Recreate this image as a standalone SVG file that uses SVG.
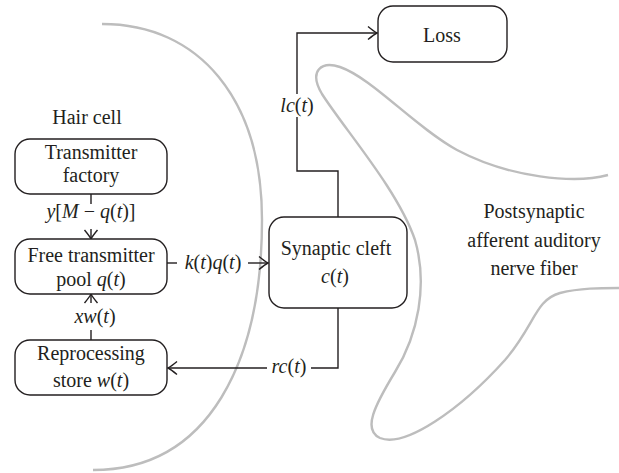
<svg xmlns="http://www.w3.org/2000/svg" width="619" height="473" viewBox="0 0 619 473">
<style>
text{font-family:'Liberation Serif','Times New Roman',serif;font-size:20px;fill:#231f20;text-anchor:middle}
.i{font-style:italic}
.box{fill:#fff;stroke:#231f20;stroke-width:1.4}
.ln{fill:none;stroke:#231f20;stroke-width:1.4}
.mem{fill:none;stroke:#bdbdbd;stroke-width:2.4}
</style>
<defs>
<marker id="ah" markerUnits="userSpaceOnUse" viewBox="-11 -7 12 14" markerWidth="12" markerHeight="14" refX="0" refY="0" orient="auto" overflow="visible">
<path d="M-9,-6.5 Q-3,-1.5 0,0 Q-3,1.5 -9,6.5" fill="none" stroke="#231f20" stroke-width="1.4"/>
</marker>
</defs>
<g id="membranes">
<path class="mem" d="M102,24 C200,24 262,100 262,220 C262,360 210,470 93,470"/>
<path class="mem" d="M608,175 C575,184 510,178 457,150 C415,127 372,78 340,67 C322,61 308,70 322,94 C345,130 398,190 415,240 C428,285 418,335 395,372 C375,405 362,430 380,438 C405,448 460,410 505,360 C535,325 535,300 560,293 C580,288 600,288 619,288"/>
</g>
<g id="regionLabels">
<text x="87" y="124">Hair cell</text>
<text x="534" y="218">Postsynaptic</text>
<text x="534" y="247">afferent auditory</text>
<text x="534" y="275">nerve fiber</text>
</g>
<g id="connectors">
<path class="ln" d="M91,194 V204"/>
<path class="ln" d="M91,229 V239" marker-end="url(#ah)"/>
<path class="ln" d="M167,263 H177"/>
<path class="ln" d="M248,263 H268" marker-end="url(#ah)"/>
<path class="ln" d="M91,340 V330"/>
<path class="ln" d="M91,303 V294" marker-end="url(#ah)"/>
<path class="ln" d="M338,308 V368 H311"/>
<path class="ln" d="M267,368 H168" marker-end="url(#ah)"/>
<path class="ln" d="M338,217 V171 H297 V117"/>
<path class="ln" d="M297,94 V33 H377" marker-end="url(#ah)"/>
<text x="91" y="218"><tspan class="i">y</tspan>[<tspan class="i">M</tspan> − <tspan class="i">q</tspan>(<tspan class="i">t</tspan>)]</text>
<text x="213" y="269"><tspan class="i">k</tspan>(<tspan class="i">t</tspan>)<tspan class="i">q</tspan>(<tspan class="i">t</tspan>)</text>
<text x="95" y="323"><tspan class="i">xw</tspan>(<tspan class="i">t</tspan>)</text>
<text x="289" y="373"><tspan class="i">rc</tspan>(<tspan class="i">t</tspan>)</text>
<text x="297" y="112"><tspan class="i">lc</tspan>(<tspan class="i">t</tspan>)</text>
</g>
<g id="factory">
<rect class="box" x="15" y="139" width="152" height="55" rx="15"/>
<text x="91" y="159">Transmitter</text>
<text x="91" y="182">factory</text>
</g>
<g id="pool">
<rect class="box" x="15" y="239" width="152" height="55" rx="15"/>
<text x="91" y="262">Free transmitter</text>
<text x="91" y="286">pool <tspan class="i">q</tspan>(<tspan class="i">t</tspan>)</text>
</g>
<g id="store">
<rect class="box" x="15" y="340" width="152" height="55" rx="15"/>
<text x="91" y="360">Reprocessing</text>
<text x="91" y="387">store <tspan class="i">w</tspan>(<tspan class="i">t</tspan>)</text>
</g>
<g id="cleft">
<rect class="box" x="269" y="217" width="138" height="91" rx="15"/>
<text x="336" y="255">Synaptic cleft</text>
<text x="335" y="283"><tspan class="i">c</tspan>(<tspan class="i">t</tspan>)</text>
</g>
<g id="loss">
<rect class="box" x="378" y="6" width="129" height="56" rx="15"/>
<text x="442" y="42">Loss</text>
</g>
</svg>
